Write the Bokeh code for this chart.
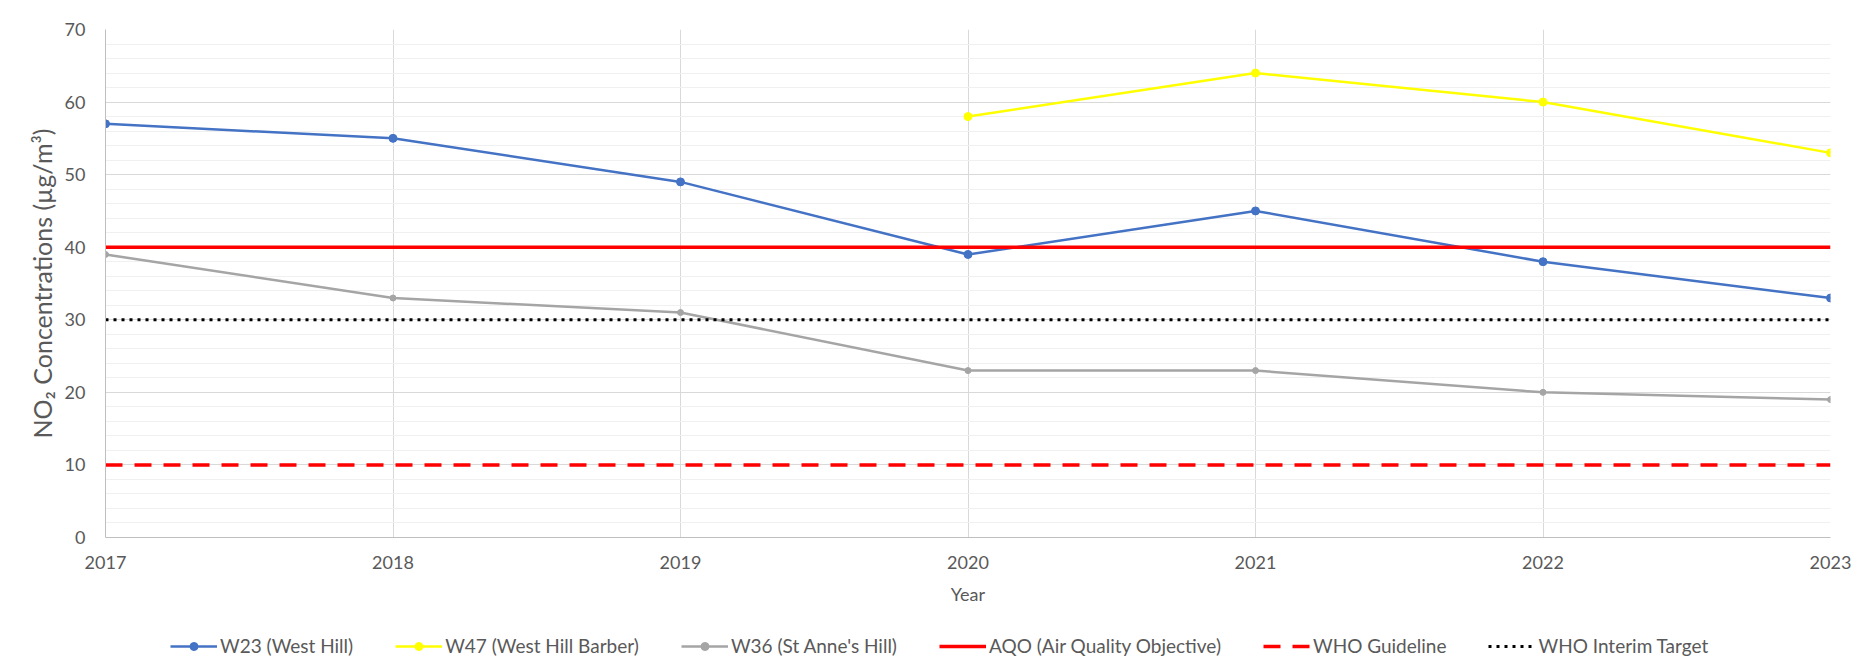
from bokeh.plotting import figure
from bokeh.models import FixedTicker, Legend, LegendItem
from bokeh.layouts import column
from bokeh.embed import file_html
from bokeh.resources import INLINE

# ---- data ----
years = [2017, 2018, 2019, 2020, 2021, 2022, 2023]
w23 = [57, 55, 49, 39, 45, 38, 33]
w47_years = [2020, 2021, 2022, 2023]
w47 = [58, 64, 60, 53]
w36 = [39, 33, 31, 23, 23, 20, 19]
aqo = [40, 40, 40, 40, 40, 40, 40]
who_guideline = [10, 10, 10, 10, 10, 10, 10]
who_interim = [30, 30, 30, 30, 30, 30, 30]
y_ticks = [0, 10, 20, 30, 40, 50, 60, 70]
y_minor = list(range(0, 71, 2))

labels = ["W23 (West Hill)", "W47 (West Hill Barber)", "W36 (St Anne's Hill)",
          "AQO (Air Quality Objective)", "WHO Guideline", "WHO Interim Target"]

FONT = "Lato"
TXT = "#595959"
BLUE, YELLOW, GREY, RED, BLACK = "#4472C4", "#FFFF00", "#A5A5A5", "#FF0000", "#000000"


def draw_series(fig):
    r1l = fig.line(years, w23, line_color=BLUE, line_width=2.5)
    r1s = fig.scatter(years, w23, size=8, fill_color=BLUE, line_color=BLUE)
    r2l = fig.line(w47_years, w47, line_color=YELLOW, line_width=2.5)
    r2s = fig.scatter(w47_years, w47, size=8, fill_color=YELLOW, line_color=YELLOW)
    r3l = fig.line(years, w36, line_color=GREY, line_width=2.5)
    r3s = fig.scatter(years, w36, size=6, fill_color=GREY, line_color=GREY)
    r4 = fig.line(years, aqo, line_color=RED, line_width=3.5)
    r5 = fig.line(years, who_guideline, line_color=RED, line_width=3.5, line_dash="17 12")
    r6 = fig.line(years, who_interim, line_color=BLACK, line_width=3, line_dash="3 5")
    return [[r1l, r1s], [r2l, r2s], [r3l, r3s], [r4], [r5], [r6]]


# ---- main chart ----
p = figure(width=1868, height=615, output_backend="svg", toolbar_location=None,
           x_range=(2017, 2023), y_range=(0, 70),
           min_border_left=105, min_border_right=38, min_border_top=29, min_border_bottom=78)
p.outline_line_color = None
p.background_fill_color = "white"

p.xaxis.ticker = FixedTicker(ticks=years)
p.yaxis.ticker = FixedTicker(ticks=y_ticks, minor_ticks=y_minor)
for ax in (p.xaxis[0], p.yaxis[0]):
    ax.axis_line_color = "#bfbfbf"
    ax.major_tick_line_color = None
    ax.minor_tick_line_color = None
    ax.major_tick_out = 0
    ax.minor_tick_out = 0
    ax.major_label_text_font = FONT
    ax.major_label_text_font_size = "18px"
    ax.major_label_text_color = TXT
    ax.axis_label_text_font = FONT
    ax.axis_label_text_font_size = "18px"
    ax.axis_label_text_color = TXT
    ax.axis_label_text_font_style = "normal"
p.xaxis.axis_label = "Year"
p.yaxis.axis_label = "NO\u2082 Concentrations (\u00b5g/m\u00b3)"
p.yaxis.axis_label_text_font_size = "25px"
p.yaxis.major_label_standoff = 20
p.yaxis.axis_label_standoff = 5
p.xaxis.major_label_standoff = 18
p.xaxis.axis_label_standoff = 11

p.xgrid.ticker = FixedTicker(ticks=years)
p.xgrid.grid_line_color = "#d9d9d9"
p.ygrid.grid_line_color = "#d9d9d9"
p.ygrid.minor_grid_line_color = "#f0f0f0"

draw_series(p)

# ---- legend strip (its own series copies sit outside the visible y range) ----
q = figure(width=1868, height=50, output_backend="svg", toolbar_location=None,
           x_range=(2017, 2023), y_range=(100, 101), x_axis_type=None, y_axis_type=None,
           min_border_left=0, min_border_right=0, min_border_top=0, min_border_bottom=0)
q.outline_line_color = None
q.grid.visible = False
groups = draw_series(q)

legend = Legend(items=[LegendItem(label=l, renderers=g) for l, g in zip(labels, groups)],
                orientation="horizontal", location=(65, 8))
legend.glyph_width = 47
legend.glyph_height = 20
legend.label_standoff = 3
legend.spacing = 42
legend.padding = 0
legend.margin = 0
legend.border_line_color = None
legend.background_fill_alpha = 0
legend.label_text_font = FONT
legend.label_text_font_size = "19px"
legend.label_text_color = TXT
q.add_layout(legend, "center")

layout = column(p, q, spacing=0)
open("out.html", "w").write(file_html(layout, INLINE))
